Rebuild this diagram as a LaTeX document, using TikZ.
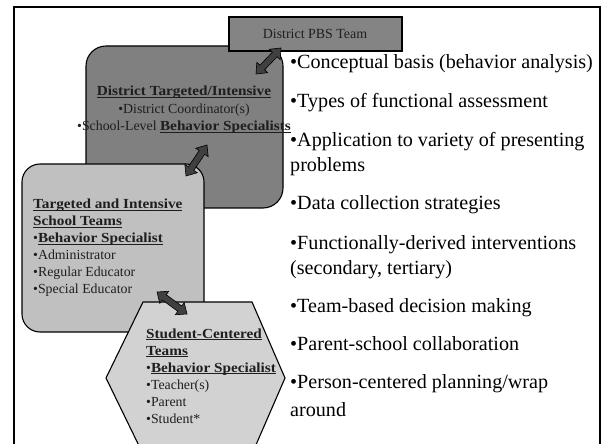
\documentclass[tikz,border=0pt]{standalone}
\usepackage{fontspec}
\setmainfont{Liberation Serif}[BoldFeatures={FakeStretch=1.1}]
\usetikzlibrary{calc}

\definecolor{teamdark}{HTML}{808080}
\definecolor{teampbs}{HTML}{848484}
\definecolor{teamlight}{HTML}{C0C0C0}
\definecolor{teampale}{HTML}{D2D2D2}
\definecolor{arrowfill}{HTML}{404040}
\definecolor{boxtext}{HTML}{1E1E1E}

% bold text with a flat underline at a fixed depth
\newsavebox\ulsave
\newcommand\ulbold[1]{\sbox\ulsave{\bfseries #1}\rlap{\rule[-2bp]{\wd\ulsave}{0.7bp}}\usebox\ulsave}

% thick double-headed block arrow between two named coordinates
\newcommand\blockarrow[2]{%
  \path ($(#1)!9bp!(#2)$) coordinate (hq) ($(#2)!9bp!(#1)$) coordinate (hr);
  \draw[linkarrow] (#1)
    -- ($(hq)!7.5bp!90:(#2)$) -- ($(hq)!3.3bp!90:(#2)$)
    -- ($(hr)!3.3bp!-90:(#1)$) -- ($(hr)!7.5bp!-90:(#1)$)
    -- (#2)
    -- ($(hr)!7.5bp!90:(#1)$) -- ($(hr)!3.3bp!90:(#1)$)
    -- ($(hq)!3.3bp!-90:(#2)$) -- ($(hq)!7.5bp!-90:(#2)$)
    -- cycle;}

\tikzset{
  tier/.style={draw=black, line width=1.1bp},
  linkarrow/.style={draw=black, line width=0.6bp, fill=arrowfill, line join=miter},
  boxline/.style={anchor=base west, inner sep=0pt, text=boxtext,
    font=\fontsize{13.9}{16}\selectfont},
  centerline/.style={boxline, anchor=base},
  listline/.style={anchor=base west, inner sep=0pt, text=black,
    font=\fontsize{20.2}{24}\selectfont},
}

\begin{document}
\begin{tikzpicture}[x=1bp, y=-1bp]
\useasboundingbox (0,0) rectangle (602,444);
\fill[white] (0,0) rectangle (602,444);

% slide frame (open at the bottom)
\draw[line width=2.2bp] (14,460) -- (14,7) -- (600,7) -- (600,460);

% district tier
\node[tier, fill=teamdark, rounded corners=20bp, minimum width=197bp,
      minimum height=162bp, inner sep=0pt] (district) at (184.5,127) {};
\node[tier, fill=teampbs, minimum width=173bp, minimum height=34bp,
      inner sep=0pt] (pbs) at (315.5,34) {};
\node[centerline, font=\fontsize{14}{16}\selectfont] (pbslabel) at (315,38.5) {District PBS Team};

\node[centerline] (d1) at (184,96) {\ulbold{District Targeted/Intensive}};
\node[centerline] (d2) at (184,114) {•District Coordinator(s)};
\node[centerline] (d3) at (184,131) {•School-Level \ulbold{Behavior Specialists}};

% school tier
\node[tier, fill=teamlight, rounded corners=18bp, minimum width=182bp,
      minimum height=168bp, inner sep=0pt] (school) at (113,248) {};
\node[boxline] (s1) at (33,209) {\ulbold{Targeted and Intensive}};
\node[boxline] (s2) at (33,226) {\ulbold{School Teams}};
\node[boxline] (s3) at (33,243) {•\ulbold{Behavior Specialist}};
\node[boxline] (s4) at (33,260) {•Administrator};
\node[boxline] (s5) at (33,277) {•Regular Educator};
\node[boxline] (s6) at (33,294) {•Special Educator};

% student tier
\draw[tier, fill=teampale] (143,302) -- (252,302) -- (285,378)
  -- (252,454) -- (143,454) -- (106,378) -- cycle;
\node[boxline] (t1) at (146,338) {\ulbold{Student-Centered}};
\node[boxline] (t2) at (146,355) {\ulbold{Teams}};
\node[boxline] (t3) at (146,372) {•\ulbold{Behavior Specialist}};
\node[boxline] (t4) at (146,389) {•Teacher(s)};
\node[boxline] (t5) at (146,406) {•Parent};
\node[boxline] (t6) at (146,423) {•Student*};

% links between tiers
\coordinate (l1a) at (256,74);  \coordinate (l1b) at (281,48);
\coordinate (l2a) at (186,176); \coordinate (l2b) at (207,145);
\coordinate (l3a) at (157,292); \coordinate (l3b) at (187,314);
\blockarrow{l1a}{l1b}
\blockarrow{l2a}{l2b}
\blockarrow{l3a}{l3b}

% skills list
\foreach \yy/\txt [count=\i] in {
  69/{•Conceptual basis (behavior analysis)},
  108/{•Types of functional assessment},
  147/{•Application to variety of presenting},
  172/{problems},
  210/{•Data collection strategies},
  250/{•Functionally-derived interventions},
  275/{(secondary, tertiary)},
  312/{•Team-based decision making},
  350/{•Parent-school collaboration},
  388/{•Person-centered planning/wrap},
  416/{around}}
  \node[listline] (item\i) at (290,\yy) {\txt};
\end{tikzpicture}
\end{document}
